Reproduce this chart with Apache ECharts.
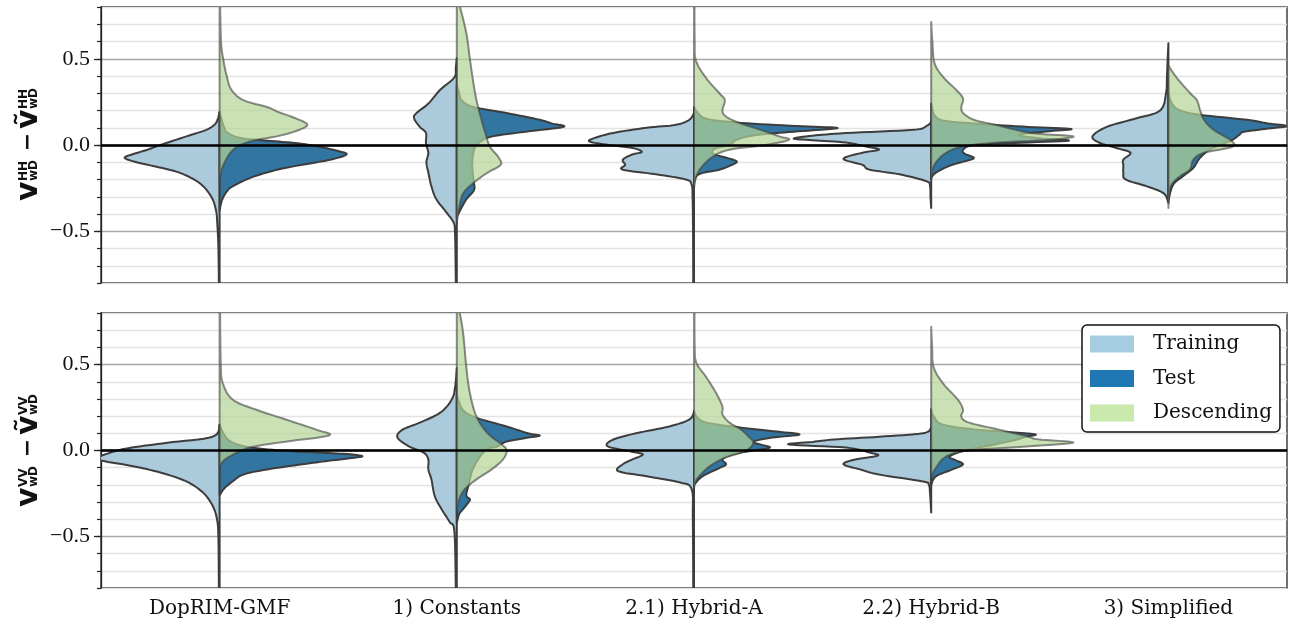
<!DOCTYPE html>
<html>
<head>
<meta charset="utf-8">
<script src="https://cdn.jsdelivr.net/npm/echarts@6/dist/echarts.min.js"></script>
<style>
  html, body { margin: 0; padding: 0; background: #fff; }
  #chart { width: 1289px; height: 627px; }
</style>
</head>
<body>
<div id="chart"></div>
<script>
// categories on the x axis
var categories = ['DopRIM-GMF', '1) Constants', '2.1) Hybrid-A', '2.2) Hybrid-B', '3) Simplified'];
var yLabelValues = [-0.5, 0, 0.5];

// violin half profiles: [value, half width as fraction of the category band]
// HH panel
var hhTraining = [
  [[-0.82,0.003],[-0.6,0.005],[-0.45,0.01],[-0.38,0.015],[-0.3,0.035],[-0.22,0.085],[-0.16,0.17],[-0.125,0.27],[-0.1,0.35],[-0.075,0.40],[-0.055,0.37],[-0.03,0.31],[0.0,0.25],[0.05,0.14],[0.088,0.056],[0.12,0.02],[0.15,0.008],[0.19,0]],
  [[-0.82,0.004],[-0.6,0.006],[-0.5,0.008],[-0.45,0.013],[-0.39,0.044],[-0.315,0.086],[-0.24,0.107],[-0.16,0.12],[-0.1,0.128],[-0.045,0.12],[0.01,0.13],[0.07,0.13],[0.105,0.156],[0.155,0.18],[0.185,0.17],[0.24,0.12],[0.32,0.07],[0.39,0.011],[0.45,0.004],[0.505,0]],
  [[-0.82,0.003],[-0.5,0.004],[-0.3,0.006],[-0.23,0.01],[-0.2,0.034],[-0.17,0.16],[-0.143,0.30],[-0.115,0.29],[-0.085,0.3],[-0.055,0.26],[-0.04,0.22],[-0.017,0.26],[0.0,0.36],[0.02,0.44],[0.04,0.42],[0.07,0.34],[0.1,0.2],[0.117,0.076],[0.146,0.02],[0.185,0]],
  [[-0.365,0],[-0.3,0.003],[-0.24,0.005],[-0.21,0.02],[-0.17,0.134],[-0.143,0.26],[-0.115,0.29],[-0.08,0.37],[-0.045,0.29],[-0.027,0.22],[-0.01,0.27],[0.014,0.36],[0.028,0.5],[0.037,0.58],[0.054,0.5],[0.069,0.36],[0.088,0.077],[0.11,0.02],[0.135,0]],
  [[-0.335,0],[-0.28,0.02],[-0.24,0.09],[-0.2,0.18],[-0.16,0.19],[-0.12,0.19],[-0.085,0.19],[-0.045,0.16],[-0.017,0.22],[0.013,0.29],[0.05,0.32],[0.105,0.26],[0.155,0.134],[0.2,0.035],[0.3,0.01],[0.4,0.006],[0.5,0.003],[0.59,0]]
];
var hhTest = [
  [[-0.38,0],[-0.32,0.01],[-0.27,0.03],[-0.24,0.055],[-0.185,0.14],[-0.135,0.27],[-0.087,0.46],[-0.055,0.535],[-0.035,0.5],[-0.01,0.42],[0.01,0.33],[0.025,0.2],[0.04,0.09],[0.07,0.035],[0.1,0.02],[0.14,0.01],[0.19,0]],
  [[-0.42,0],[-0.39,0.01],[-0.315,0.04],[-0.26,0.073],[-0.2,0.07],[-0.1,0.065],[-0.02,0.075],[0.02,0.10],[0.05,0.15],[0.077,0.29],[0.105,0.45],[0.125,0.40],[0.146,0.35],[0.185,0.21],[0.22,0.07],[0.26,0.02],[0.3,0.01],[0.35,0]],
  [[-0.22,0],[-0.17,0.02],[-0.143,0.107],[-0.115,0.16],[-0.095,0.18],[-0.075,0.14],[-0.05,0.08],[-0.02,0.09],[0.0,0.15],[0.03,0.18],[0.055,0.25],[0.075,0.4],[0.09,0.55],[0.1,0.6],[0.11,0.43],[0.128,0.2],[0.15,0.06],[0.18,0.02],[0.22,0]],
  [[-0.19,0],[-0.16,0.02],[-0.12,0.078],[-0.095,0.14],[-0.075,0.18],[-0.05,0.14],[-0.027,0.135],[0.0,0.18],[0.012,0.35],[0.025,0.58],[0.04,0.45],[0.06,0.37],[0.08,0.5],[0.093,0.59],[0.105,0.41],[0.123,0.2],[0.14,0.06],[0.17,0.015],[0.24,0]],
  [[-0.32,0],[-0.23,0.02],[-0.18,0.063],[-0.133,0.105],[-0.08,0.13],[-0.03,0.17],[0.0,0.22],[0.03,0.27],[0.06,0.3],[0.077,0.32],[0.095,0.42],[0.11,0.5],[0.125,0.42],[0.146,0.33],[0.175,0.134],[0.2,0.05],[0.24,0.015],[0.3,0]]
];
var hhDescending = [
  [[-0.2,0],[-0.125,0.013],[-0.03,0.055],[0.02,0.127],[0.05,0.24],[0.08,0.32],[0.117,0.37],[0.155,0.32],[0.19,0.25],[0.22,0.2],[0.26,0.1],[0.32,0.05],[0.4,0.03],[0.5,0.015],[0.6,0.006],[0.82,0.002]],
  [[-0.45,0],[-0.36,0.01],[-0.28,0.027],[-0.22,0.07],[-0.16,0.13],[-0.115,0.185],[-0.07,0.175],[-0.01,0.14],[0.07,0.12],[0.165,0.1],[0.26,0.083],[0.36,0.07],[0.5,0.055],[0.65,0.04],[0.82,0.01]],
  [[-0.25,0],[-0.18,0.01],[-0.12,0.037],[-0.067,0.08],[-0.027,0.15],[0.0,0.3],[0.03,0.40],[0.05,0.36],[0.088,0.28],[0.128,0.19],[0.165,0.135],[0.2,0.12],[0.26,0.13],[0.3,0.107],[0.39,0.05],[0.49,0.008],[0.6,0.003],[0.82,0.002]],
  [[-0.2,0],[-0.15,0.005],[-0.1,0.02],[-0.045,0.063],[-0.01,0.13],[0.013,0.27],[0.03,0.5],[0.05,0.6],[0.065,0.45],[0.077,0.39],[0.117,0.27],[0.146,0.18],[0.186,0.134],[0.22,0.127],[0.27,0.134],[0.32,0.105],[0.395,0.05],[0.475,0.014],[0.6,0.005],[0.713,0]],
  [[-0.365,0],[-0.24,0.01],[-0.18,0.05],[-0.143,0.09],[-0.085,0.105],[-0.045,0.15],[-0.01,0.27],[0.03,0.26],[0.088,0.19],[0.146,0.15],[0.2,0.134],[0.26,0.12],[0.3,0.092],[0.39,0.035],[0.46,0]]
];
// VV panel (no violin for 3) Simplified)
var vvTraining = [
  [[-0.82,0.003],[-0.51,0.005],[-0.4,0.011],[-0.32,0.03],[-0.245,0.07],[-0.18,0.14],[-0.128,0.25],[-0.09,0.37],[-0.052,0.51],[-0.012,0.46],[0.017,0.37],[0.045,0.22],[0.08,0.03],[0.15,0]],
  [[-0.82,0.004],[-0.474,0.01],[-0.416,0.03],[-0.34,0.065],[-0.265,0.093],[-0.168,0.107],[-0.11,0.12],[-0.052,0.12],[-0.012,0.14],[0.023,0.2],[0.075,0.25],[0.12,0.23],[0.162,0.156],[0.22,0.07],[0.295,0.022],[0.37,0.007],[0.48,0]],
  [[-0.82,0.003],[-0.4,0.005],[-0.225,0.01],[-0.185,0.062],[-0.15,0.2],[-0.12,0.32],[-0.08,0.3],[-0.052,0.26],[-0.023,0.216],[-0.005,0.27],[0.025,0.365],[0.064,0.34],[0.1,0.245],[0.14,0.104],[0.18,0.02],[0.225,0]],
  [[-0.36,0],[-0.25,0.005],[-0.2,0.01],[-0.18,0.035],[-0.14,0.22],[-0.11,0.3],[-0.08,0.37],[-0.052,0.32],[-0.03,0.225],[-0.012,0.26],[0.017,0.36],[0.035,0.6],[0.05,0.5],[0.064,0.41],[0.08,0.22],[0.1,0.035],[0.133,0]],
  null
];
var vvTest = [
  [[-0.26,0],[-0.22,0.02],[-0.18,0.055],[-0.14,0.1],[-0.11,0.2],[-0.08,0.35],[-0.06,0.46],[-0.04,0.58],[-0.032,0.6],[-0.022,0.55],[-0.012,0.42],[0.0,0.26],[0.02,0.12],[0.05,0.05],[0.09,0.02],[0.15,0]],
  [[-0.42,0],[-0.37,0.01],[-0.34,0.027],[-0.3,0.05],[-0.283,0.055],[-0.26,0.04],[-0.2,0.05],[-0.1,0.07],[0.0,0.12],[0.023,0.17],[0.052,0.21],[0.075,0.3],[0.087,0.35],[0.1,0.3],[0.14,0.21],[0.19,0.083],[0.23,0.03],[0.28,0.01],[0.33,0]],
  [[-0.2,0],[-0.15,0.036],[-0.1,0.11],[-0.08,0.135],[-0.05,0.12],[-0.02,0.17],[0.0,0.25],[0.017,0.32],[0.035,0.28],[0.052,0.25],[0.075,0.33],[0.093,0.445],[0.11,0.35],[0.133,0.2],[0.16,0.06],[0.19,0.015],[0.23,0]],
  [[-0.2,0],[-0.15,0.02],[-0.11,0.09],[-0.08,0.134],[-0.055,0.1],[-0.035,0.078],[0.0,0.14],[0.03,0.25],[0.06,0.35],[0.08,0.4],[0.093,0.44],[0.105,0.35],[0.12,0.2],[0.15,0.05],[0.2,0.01],[0.24,0]],
  null
];
var vvDescending = [
  [[-0.1,0],[-0.07,0.01],[-0.035,0.042],[0.017,0.127],[0.05,0.27],[0.087,0.46],[0.12,0.41],[0.18,0.28],[0.237,0.155],[0.295,0.056],[0.39,0.014],[0.5,0.005],[0.82,0.002]],
  [[-0.35,0],[-0.283,0.01],[-0.225,0.034],[-0.168,0.083],[-0.11,0.147],[-0.052,0.195],[0.0,0.21],[0.035,0.19],[0.1,0.13],[0.197,0.083],[0.335,0.055],[0.486,0.04],[0.68,0.027],[0.82,0.01]],
  [[-0.22,0],[-0.17,0.01],[-0.11,0.05],[-0.07,0.09],[-0.04,0.135],[0.0,0.22],[0.046,0.25],[0.08,0.23],[0.12,0.2],[0.162,0.15],[0.21,0.12],[0.255,0.12],[0.335,0.093],[0.43,0.05],[0.51,0.01],[0.6,0.003],[0.82,0.002]],
  [[-0.15,0],[-0.1,0.02],[-0.035,0.063],[0.0,0.16],[0.023,0.4],[0.046,0.6],[0.065,0.45],[0.08,0.41],[0.12,0.29],[0.162,0.16],[0.197,0.127],[0.237,0.134],[0.295,0.113],[0.39,0.05],[0.486,0.01],[0.6,0.004],[0.72,0]],
  null
];

var SERIF = '"Liberation Serif", "DejaVu Serif", serif';
var WIDE_SERIF = '"DejaVu Serif", "Liberation Serif", serif';
var SANS = '"DejaVu Sans", sans-serif';

// smooth a polyline with Catmull-Rom
function smoothPts(p) {
  var out = [], n = p.length;
  for (var i = 0; i < n - 1; i++) {
    var p0 = p[Math.max(i - 1, 0)], p1 = p[i], p2 = p[i + 1], p3 = p[Math.min(i + 2, n - 1)];
    for (var k = 0; k < 8; k++) {
      var t = k / 8, t2 = t * t, t3 = t2 * t;
      var f = function (a, b, c, d) {
        return 0.5 * (2 * b + (-a + c) * t + (2 * a - 5 * b + 4 * c - d) * t2 + (-a + 3 * b - 3 * c + d) * t3);
      };
      out.push([f(p0[0], p1[0], p2[0], p3[0]), f(p0[1], p1[1], p2[1], p3[1])]);
    }
  }
  out.push(p[n - 1]);
  return out;
}

function violin(name, profiles, side, gi, fill, stroke, legendColor, z, zeroLine) {
  var s = {
    type: 'custom',
    name: name,
    xAxisIndex: gi,
    yAxisIndex: gi,
    clip: true,
    z: z,
    itemStyle: { color: legendColor },
    data: categories.map(function (c, i) { return [i]; }),
    renderItem: function (params, api) {
      var idx = api.value(0);
      var prof = profiles[idx];
      if (!prof) return null;
      var band = api.size([1, 0])[0];
      var cx = api.coord([idx, 0])[0];
      var pts = prof.map(function (d) {
        var c = api.coord([idx, d[0]]);
        return [c[0] + side * d[1] * band, c[1]];
      });
      var sm = smoothPts(pts).map(function (q) {
        return [side > 0 ? Math.max(q[0], cx) : Math.min(q[0], cx), q[1]];
      });
      var poly = [[cx, sm[0][1]]].concat(sm, [[cx, sm[sm.length - 1][1]]]);
      return {
        type: 'polygon',
        shape: { points: poly },
        style: { fill: fill, stroke: stroke, lineWidth: 2, lineJoin: 'round' }
      };
    }
  };
  if (zeroLine) {
    s.markLine = {
      silent: true, symbol: 'none', animation: false,
      label: { show: false },
      lineStyle: { color: '#000', width: 2.5, type: 'solid' },
      data: [{ yAxis: 0 }]
    };
  }
  return s;
}

// rotated y axis title built from pieces (v with super/sub scripts)
function yTitle(cy, tag) {
  var big = 'bold 30px ' + SANS, small = 'bold 12px ' + SANS, mid = 'bold 22px ' + SANS;
  function t(x, y, text, font, align) {
    return { type: 'text', x: x, y: y,
      style: { text: text, font: font, fill: '#111', align: align || 'left', textAlign: align || 'left', verticalAlign: 'middle', textVerticalAlign: 'middle' } };
  }
  return {
    type: 'group', x: 29, y: cy, rotation: Math.PI / 2,
    children: [
      t(-56, 0, 'v', big),
      t(-36, -5, tag, small),
      t(-36, 5, 'wD', small),
      t(3, -1, '\u2212', mid, 'center'),
      t(16, 0, 'v\u0303', big),
      t(36, -5, tag, small),
      t(36, 5, 'wD', small)
    ]
  };
}

var gridPos = [
  { left: 101, right: 2, top: 7, height: 276 },
  { left: 101, right: 2, top: 313, height: 275 }
];
var minorColors = ['#e3e3e3', '#e3e3e3', '#e3e3e3', '#a8a8a8', '#e3e3e3'];

function fmt(v) {
  if (Math.abs(v) < 1e-9) return '0.0';
  return (v < 0 ? '\u2212' : '') + Math.abs(v).toFixed(1);
}

var grids = [], xAxes = [], yAxes = [];
[0, 1].forEach(function (g) {
  grids.push(Object.assign({ show: true, borderColor: '#222', borderWidth: 1.3, backgroundColor: '#fff' }, gridPos[g]));
  xAxes.push({
    type: 'category', gridIndex: g, data: categories,
    axisLine: { lineStyle: { color: '#222', width: 1.3 } },
    axisTick: { alignWithLabel: true, length: 6, lineStyle: { color: '#222', width: 1.3 } },
    axisLabel: { show: g === 1, fontFamily: WIDE_SERIF, fontSize: 20, color: '#111', margin: 11 },
    splitLine: { show: false }
  });
  yAxes.push({
    type: 'value', gridIndex: g, min: -0.8, max: 0.8, interval: 0.1,
    axisLine: { show: true, lineStyle: { color: '#222', width: 1.3 } },
    axisTick: { show: true, length: 4, lineStyle: { color: '#222', width: 1.2 } },
    axisLabel: { show: false },
    splitLine: { show: true, lineStyle: { color: minorColors, width: 1.3 } }
  });
});
// overlay grids carrying the labelled major ticks
[0, 1].forEach(function (g) {
  grids.push(Object.assign({ show: false }, gridPos[g]));
  xAxes.push({ type: 'category', gridIndex: g + 2, data: categories, show: false });
  yAxes.push({
    type: 'value', gridIndex: g + 2, min: -0.8, max: 0.8, interval: 0.1,
    axisLine: { show: false },
    axisTick: { show: true, length: 7, customValues: yLabelValues, lineStyle: { color: '#222', width: 1.3 } },
    axisLabel: { show: true, customValues: yLabelValues, formatter: fmt, fontFamily: SERIF, fontSize: 22, color: '#111', margin: 11 },
    splitLine: { show: false }
  });
});

var trainFill = 'rgb(171,203,220)', testFill = 'rgb(50,117,161)', descFill = 'rgba(179,212,149,0.7)';
var edge = '#3d3d3d', descEdge = 'rgba(64,64,64,0.6)';

var series = [
  violin('Training', hhTraining, -1, 0, trainFill, edge, '#a6cee3', 2, false),
  violin('Test', hhTest, 1, 0, testFill, edge, '#1f78b4', 2, false),
  violin('Descending', hhDescending, 1, 0, descFill, descEdge, 'rgba(178,223,138,0.7)', 3, true),
  violin('Training', vvTraining, -1, 1, trainFill, edge, '#a6cee3', 2, false),
  violin('Test', vvTest, 1, 1, testFill, edge, '#1f78b4', 2, false),
  violin('Descending', vvDescending, 1, 1, descFill, descEdge, 'rgba(178,223,138,0.7)', 3, true)
];

var chart = echarts.init(document.getElementById('chart'), null, { renderer: 'canvas' });
chart.setOption({
  animation: false,
  backgroundColor: '#fff',
  grid: grids,
  xAxis: xAxes,
  yAxis: yAxes,
  legend: {
    data: ['Training', 'Test', 'Descending'],
    orient: 'vertical',
    left: 1082, top: 325,
    icon: 'rect',
    itemWidth: 44, itemHeight: 17, itemGap: 14.5,
    padding: [9, 8, 9, 8],
    backgroundColor: '#fff',
    borderColor: '#111', borderWidth: 1.5, borderRadius: 5,
    textStyle: { fontFamily: WIDE_SERIF, fontSize: 20, color: '#111', padding: [0, 0, 0, 14] },
    z: 20
  },
  graphic: [yTitle(145, 'HH'), yTitle(451, 'VV')],
  series: series
});
</script>
</body>
</html>
